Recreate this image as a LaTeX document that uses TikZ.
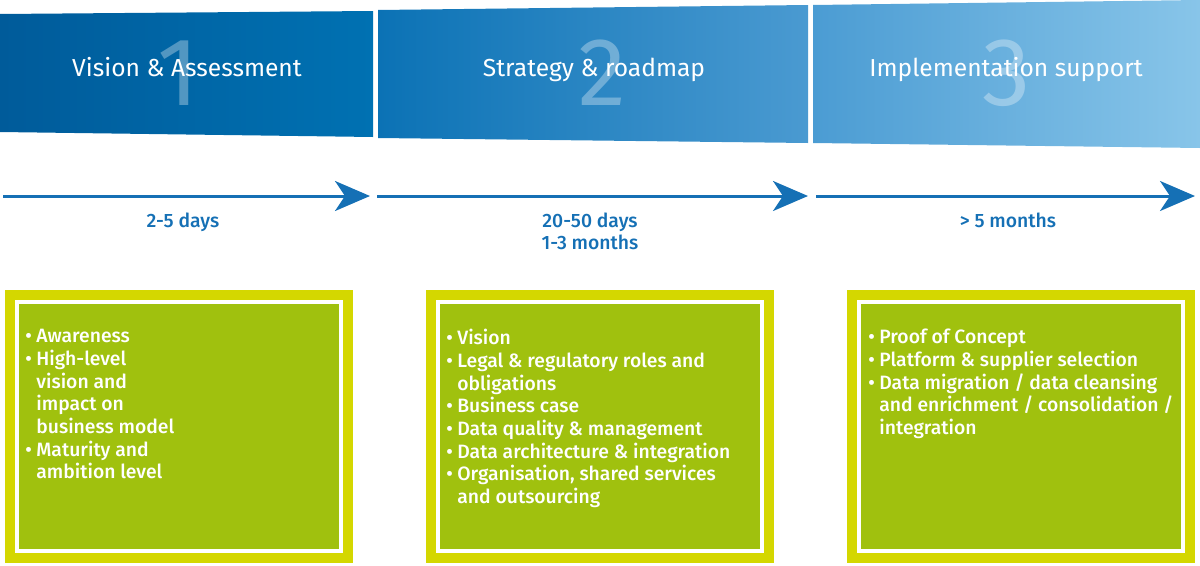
\documentclass[tikz,border=0pt]{standalone}
\usepackage{fontspec}
\setmainfont{Fira Sans}[BoldFont={Fira Sans Medium}]
\usetikzlibrary{arrows.meta, positioning}
\definecolor{bandAl}{HTML}{005B9A}\definecolor{bandAr}{HTML}{0071B2}
\definecolor{bandBl}{HTML}{0B72B5}\definecolor{bandBr}{HTML}{4A9AD1}
\definecolor{bandCl}{HTML}{4B9CD3}\definecolor{bandCr}{HTML}{88C5E9}
\definecolor{timeblue}{HTML}{1570B5}
\definecolor{rimyellow}{HTML}{D4D700}
\definecolor{boxgreen}{HTML}{A0C10E}
\newcommand{\bul}{\makebox[0.22cm][l]{\textbullet}}
\newcommand{\ind}{\hspace*{0.22cm}}
\tikzset{
  phasebox/.style={rectangle, inner sep=0, minimum width=6.48cm, minimum height=4.98cm,
    fill=boxgreen, draw=white, line width=0.08cm,
    preaction={draw=rimyellow, line width=0.48cm}},
  boxtext/.style={anchor=north west, inner sep=0, align=left, text=white,
    font=\fontsize{11}{12.9}\selectfont\bfseries},
  title/.style={anchor=base, text=white, font=\fontsize{14}{17}\selectfont},
  digit/.style={anchor=base, text=white, text opacity=0.32, font=\fontsize{55}{60}\selectfont},
  timearrow/.style={draw=timeblue, line width=0.06cm, -{Stealth[length=0.7cm, width=0.6cm, inset=0.2cm]}},
  timelabel/.style={anchor=base, text=timeblue, align=center, font=\fontsize{11}{12.5}\selectfont\bfseries}
}
\begin{document}
\begin{tikzpicture}[x=0.02cm, y=-0.02cm]
  \useasboundingbox (0,0) rectangle (1200,565);
  % phase banners
  \shade[left color=bandAl, right color=bandAr] (0,14) -- (373,11) -- (373,137) -- (0,132) -- cycle;
  \shade[left color=bandBl, right color=bandBr] (378,10) -- (808,5) -- (808,143) -- (378,138) -- cycle;
  \shade[left color=bandCl, right color=bandCr] (813,5) -- (1200,0) -- (1200,148) -- (813,143) -- cycle;
  \node[digit] (n1) at (178,105) {1};
  \node[digit] (n2) at (602,105) {2};
  \node[digit] (n3) at (1007,105) {3};
  \node[title] (t1) at (187,76) {Vision \& Assessment};
  \node[title] (t2) at (594,76) {Strategy \& roadmap};
  \node[title] (t3) at (1006,76) {Implementation support};
  % time line
  \coordinate (s1) at (3,196); \coordinate (e1) at (370,196);
  \coordinate (s2) at (377,196); \coordinate (e2) at (808,196);
  \coordinate (s3) at (816,196); \coordinate (e3) at (1195,196);
  \draw[timearrow] (s1) -- (e1);
  \draw[timearrow] (s2) -- (e2);
  \draw[timearrow] (s3) -- (e3);
  \node[timelabel] (d1) at (183,227) {2-5 days};
  \node[timelabel] (d2) at (590,249) {20-50 days\\1-3 months};
  \node[timelabel] (d3) at (1008,227) {> 5 months};
  % content boxes
  \node[phasebox] (box1) at (179,426.5) {};
  \node[phasebox] (box2) at (600,426.5) {};
  \node[phasebox] (box3) at (1021,426.5) {};
  \node[boxtext] (txt1) at ([shift={(10,29)}]box1.north west) {\bul Awareness\\ \bul High-level\\ \ind vision and\\ \ind impact on\\ \ind business model\\ \bul Maturity and\\ \ind ambition level};
  \node[boxtext] (txt2) at ([shift={(10,29)}]box2.north west) {\bul Vision\\ \bul Legal \& regulatory roles and\\ \ind obligations\\ \bul Business case\\ \bul Data quality \& management\\ \bul Data architecture \& integration\\ \bul Organisation, shared services\\ \ind and outsourcing};
  \node[boxtext] (txt3) at ([shift={(11,29)}]box3.north west) {\bul Proof of Concept\\ \bul Platform \& supplier selection\\ \bul Data migration / data cleansing\\ \ind and enrichment / consolidation /\\ \ind integration};
\end{tikzpicture}
\end{document}
